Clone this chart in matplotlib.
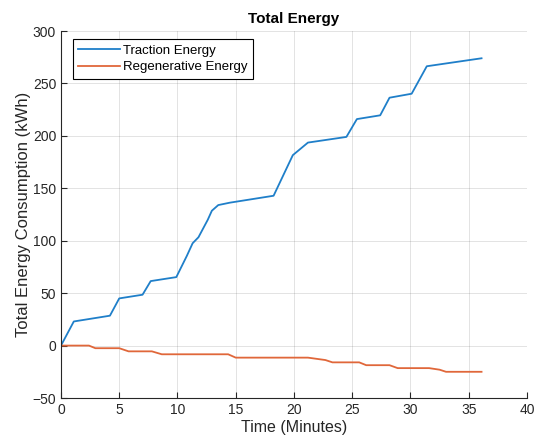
import matplotlib
matplotlib.use("Agg")
import matplotlib.pyplot as plt

# time (minutes) and cumulative energy (kWh)
traction_t = [0, 1.1, 4.2, 5.0, 7.0, 7.7, 9.9, 10.8, 11.3, 11.8, 12.6, 12.95, 13.5, 14.5,
              18.25, 19.9, 21.2, 24.5, 25.4, 27.4, 28.2, 30.1, 31.4, 36.1]
traction_e = [0, 23, 28.5, 45, 48.5, 61.5, 65.3, 85.5, 97.6, 103.3, 120, 128.6, 134, 136.3,
              142.9, 181.6, 193.6, 199, 216, 219.6, 236.4, 240.2, 266.4, 274]

regen_t = [0, 2.4, 2.95, 5.0, 5.8, 7.8, 8.65, 14.35, 15.0, 21.2, 22.7, 23.3, 25.6, 26.2,
           28.2, 28.9, 31.6, 32.5, 33.05, 36.1]
regen_e = [0, 0, -2.5, -2.5, -5.5, -5.5, -8.3, -8.3, -11.5, -11.5, -13.8, -16, -16, -18.7,
           -18.7, -21.5, -21.5, -23, -25, -25]

x_ticks = [0, 5, 10, 15, 20, 25, 30, 35, 40]
y_ticks = [-50, 0, 50, 100, 150, 200, 250, 300]

plt.rcParams["font.family"] = ["Liberation Sans", "DejaVu Sans"]

fig = plt.figure(figsize=(5.35, 4.45), dpi=100)
ax = fig.add_axes([0.114, 0.1056, 0.871, 0.8247])

ax.plot(traction_t, traction_e, color="#1f7fc9", lw=1.3, label="Traction Energy")
ax.plot(regen_t, regen_e, color="#e0673a", lw=1.3, label="Regenerative Energy")

ax.set_xlim(0, 40)
ax.set_ylim(-50, 300)
ax.set_xticks(x_ticks)
ax.set_yticks(y_ticks)
ax.grid(True, color="#262626", alpha=0.15, lw=0.6)
ax.set_axisbelow(True)

for side in ("top", "right"):
    ax.spines[side].set_visible(False)
for side in ("left", "bottom"):
    ax.spines[side].set_color("#262626")
    ax.spines[side].set_linewidth(0.8)
ax.tick_params(direction="in", length=4, width=0.8, colors="#262626",
               labelsize=10, labelcolor="#262626")

ax.set_xlabel("Time (Minutes)", fontsize=11.5, color="#262626", labelpad=2)
ax.set_ylabel("Total Energy Consumption (kWh)", fontsize=12, color="#262626", labelpad=1)
ax.set_title("Total Energy", fontsize=11, fontweight="bold", pad=6)

leg = ax.legend(loc="upper left", bbox_to_anchor=(0.025, 0.978), borderaxespad=0,
                fontsize=9.5, fancybox=False, framealpha=1, edgecolor="black",
                handlelength=3.2, borderpad=0.4, labelspacing=0.35, handletextpad=0.2)
leg.get_frame().set_linewidth(0.8)

fig.savefig("out.png", dpi=100)
